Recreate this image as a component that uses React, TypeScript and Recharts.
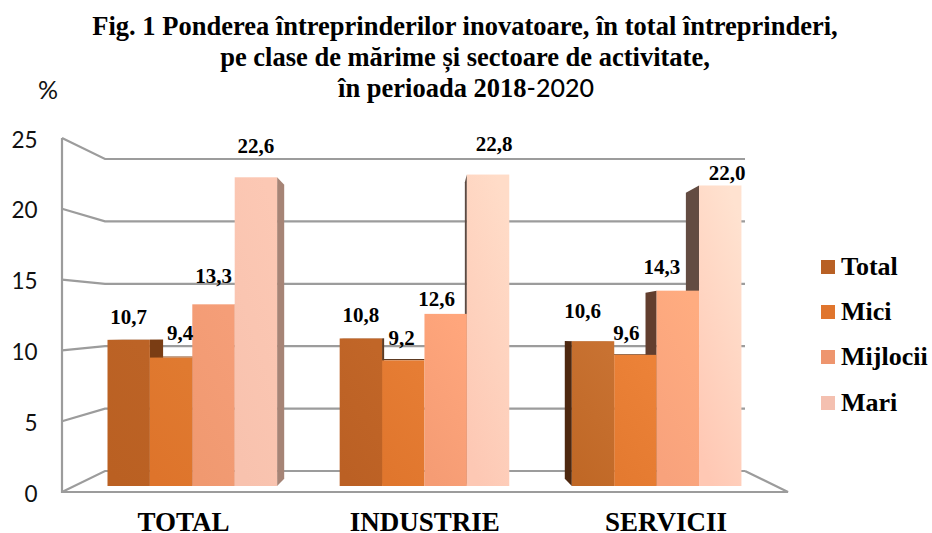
import React from "react";
import { BarChart, Bar, XAxis, YAxis, Legend, LabelList } from "recharts";

const categories = ["TOTAL", "INDUSTRIE", "SERVICII"];
const seriesNames = ["Total", "Mici", "Mijlocii", "Mari"];
const totalValues = [10.7, 10.8, 10.6];
const miciValues = [9.4, 9.2, 9.6];
const mijlociiValues = [13.3, 12.6, 14.3];
const mariValues = [22.6, 22.8, 22.0];
const yTicks = [0, 5, 10, 15, 20, 25];
const titleLines = [
  "Fig. 1 Ponderea întreprinderilor inovatoare, în total întreprinderi,",
  "pe clase de mărime și sectoare de activitate,",
];

const data = categories.map((name, i) => ({
  name,
  Total: totalValues[i],
  Mici: miciValues[i],
  Mijlocii: mijlociiValues[i],
  Mari: mariValues[i],
}));

// ---- styling tables (series x category) ----
const legendColors = ["#B86024", "#E0752D", "#EE956E", "#F4C0B0"];
const frontColors = [
  [["#BC6326", "#BA6022"], ["#C16628", "#BB6024"], ["#C87232", "#C06826"]],
  [["#E07A30", "#DE742B"], ["#E67D34", "#E0762D"], ["#EC8238", "#E47A30"]],
  [["#F59E78", "#F09970"], ["#FFA67C", "#F59C74"], ["#FFAC80", "#F8A27C"]],
  [["#FCC8B4", "#F8C2AE"], ["#FFDCC8", "#FDC8B4"], ["#FFE2D0", "#FFC8B4"]],
];
const sideColors = [
  ["#7A3D14", "#5C3A22", "#4E2810"],
  ["#8A4A1C", "#5C3A22", "#6B3A18"],
  ["#A0654C", "#5C3A22", "#623E2E"],
  ["#A68476", "#5C4A42", "#634C42"],
];
// label offset from the top centre of each bar
const labelNudge = [
  [[0, -16], [0, -16.6], [-10.5, -23]],
  [[9, -18], [-1.6, -15], [-9, -15]],
  [[0, -21], [-9, -8], [-16, -17]],
  [[0, -24], [6, -24], [7, -5]],
];

const VP_X = 425;
const VP_Y = 335;
const DEPTH = 0.048;
const back = (x: number, y: number) => [x + DEPTH * (VP_X - x), y + DEPTH * (VP_Y - y)];
const pts = (a: number[][]) => a.map((p) => p.join(",")).join(" ");

const makeSide = (s: number) => (p: any) => {
  const { x, y, width, height, index } = p;
  const color = sideColors[s][index];
  const b = y + height;
  const r = x + width;
  const faces: number[][][] = [];
  if (r < VP_X) faces.push([[r, y], [r, b], back(r, b), back(r, y)]);
  if (x > VP_X) faces.push([[x, y], [x, b], back(x, b), back(x, y)]);
  if (y > VP_Y) faces.push([[x, y], [r, y], back(r, y), back(x, y)]);
  return (
    <g>
      {faces.map((f, i) => (
        <polygon key={i} points={pts(f)} fill={color} />
      ))}
    </g>
  );
};

const makeFront = (s: number) => (p: any) => {
  const { x, y, width, height, index } = p;
  const id = `front-${s}-${index}`;
  const [c0, c1] = frontColors[s][index];
  return (
    <g>
      <defs>
        <linearGradient id={id} x1="0.7" y1="0" x2="0.3" y2="1">
          <stop offset="0" stopColor={c0} />
          <stop offset="1" stopColor={c1} />
        </linearGradient>
      </defs>
      <rect x={x} y={y} width={width} height={height} fill={`url(#${id})`} />
    </g>
  );
};

const makeLabel = (s: number) => (p: any) => {
  const { x, y, width, value, index } = p;
  const [dx, dy] = labelNudge[s][index];
  return (
    <text
      x={x + width / 2 + dx}
      y={y + dy}
      textAnchor="middle"
      fontFamily="'Liberation Serif', serif"
      fontWeight="bold"
      fontSize={21}
      fill="#000"
    >
      {Number(value).toFixed(1).replace(".", ",")}
    </text>
  );
};

const GRID = "#9C9C9C";
const WALL_L = 62;
const WALL_BL = 105;
const WALL_BR = 745;
const WALL_R = 788;
const frontY = (v: number) => 492 - 14.16 * v;
const backY = (v: number) => 471 - 12.48 * v;

const WallTick = (p: any) => {
  const v = p.payload.value;
  return (
    <g>
      <polyline
        points={pts([[WALL_L, frontY(v)], [WALL_BL, backY(v)], [WALL_BR, backY(v)]])}
        fill="none"
        stroke={GRID}
        strokeWidth={2.2}
      />
      {v === 0 && (
        <polyline
          points={pts([[WALL_L, frontY(25)], [WALL_L, frontY(0)], [WALL_R, frontY(0)], [WALL_BR, backY(0)]])}
          fill="none"
          stroke={GRID}
          strokeWidth={2.2}
        />
      )}
      <text x={37.5} y={frontY(v) + 9.5} textAnchor="end" fontFamily="Lato" fontSize={22.5} fill="#111">
        {v}
      </text>
    </g>
  );
};

const CategoryTick = (p: any) => (
  <text
    x={VP_X + (p.x - VP_X) * 1.039}
    y={p.y + 45}
    textAnchor="middle"
    fontFamily="'Liberation Serif', serif"
    fontWeight="bold"
    fontSize={27}
    fill="#000"
  >
    {p.payload.value}
  </text>
);

const LegendBox = (p: any) => {
  const items = seriesNames.map((n) => (p.payload || []).find((e: any) => e.value === n)).filter(Boolean);
  return (
    <div>
      {items.map((e: any) => (
        <div key={e.value} style={{ height: 45.2, display: "flex", alignItems: "center" }}>
          <span style={{ width: 14, height: 14, background: e.color, display: "inline-block", marginRight: 6 }} />
          <span style={{ fontFamily: "'Liberation Serif', serif", fontWeight: "bold", fontSize: 26, color: "#000" }}>
            {e.value}
          </span>
        </div>
      ))}
    </div>
  );
};

const titleBase: React.CSSProperties = {
  position: "absolute",
  left: 0,
  width: 932,
  textAlign: "center",
  fontFamily: "'Liberation Serif', serif",
  fontWeight: "bold",
  fontSize: 26.5,
  lineHeight: "30px",
  color: "#000",
  whiteSpace: "nowrap",
};

const layer: React.CSSProperties = { position: "absolute", left: 0, top: 0 };
const chartMargin = { top: 144.5, right: 159, bottom: 0, left: 0 };

export default function App() {
  return (
    <div style={{ position: "absolute", left: 0, top: 0, width: 932, height: 533, overflow: "hidden", background: "#fff" }}>
      <div style={{ ...titleBase, top: 11, marginLeft: -1 }}>{titleLines[0]}</div>
      <div style={{ ...titleBase, top: 42, marginLeft: -1 }}>{titleLines[1]}</div>
      <div style={{ ...titleBase, top: 72, marginLeft: 0 }}>
        în perioada 2018<span style={{ fontFamily: "Lato", fontWeight: 500, fontSize: 25 }}>-2020</span>
      </div>
      <div style={{ position: "absolute", left: 38, top: 74, fontFamily: "Lato", fontSize: 25, color: "#111" }}>%</div>
      {/* back wall, floor and value axis, under the bars */}
      <div style={layer}>
        <BarChart width={932} height={533} data={data} margin={chartMargin}>
          <YAxis
            type="number"
            domain={[0, 25]}
            ticks={yTicks}
            width={76.5}
            axisLine={false}
            tickLine={false}
            tick={(p: any) => <WallTick {...p} />}
            interval={0}
          />
          <XAxis dataKey="name" height={47} axisLine={false} tickLine={false} tick={false} />
          <Bar dataKey="Total" fill="none" legendType="none" isAnimationActive={false} />
        </BarChart>
      </div>
      <div style={layer}>
        <BarChart width={932} height={533} data={data} barGap={0} margin={chartMargin}>
          <YAxis type="number" domain={[0, 25]} ticks={yTicks} width={76.5} axisLine={false} tickLine={false} tick={false} />
          <XAxis
            xAxisId="front"
            dataKey="name"
            height={47}
            axisLine={false}
            tickLine={false}
            tickSize={0}
            tickMargin={0}
            interval={0}
            tick={(p: any) => <CategoryTick {...p} />}
          />
          <XAxis xAxisId="side" dataKey="name" hide />
          {seriesNames.map((n, s) => (
            <Bar
              key={"side" + n}
              xAxisId="side"
              dataKey={n}
              barSize={42.4}
              legendType="none"
              fill={legendColors[s]}
              shape={makeSide(s)}
              isAnimationActive={false}
            />
          ))}
          {seriesNames.map((n, s) => (
            <Bar
              key={n}
              xAxisId="front"
              dataKey={n}
              name={n}
              barSize={42.4}
              fill={legendColors[s]}
              shape={makeFront(s)}
              isAnimationActive={false}
            >
              <LabelList dataKey={n} content={makeLabel(s)} />
            </Bar>
          ))}
          <Legend
            layout="horizontal"
            verticalAlign="middle"
            align="center"
            content={(p: any) => <LegendBox {...p} />}
            wrapperStyle={{ position: "absolute", left: 821, top: 244.5, width: 111, height: 181 }}
          />
        </BarChart>
      </div>
    </div>
  );
}
